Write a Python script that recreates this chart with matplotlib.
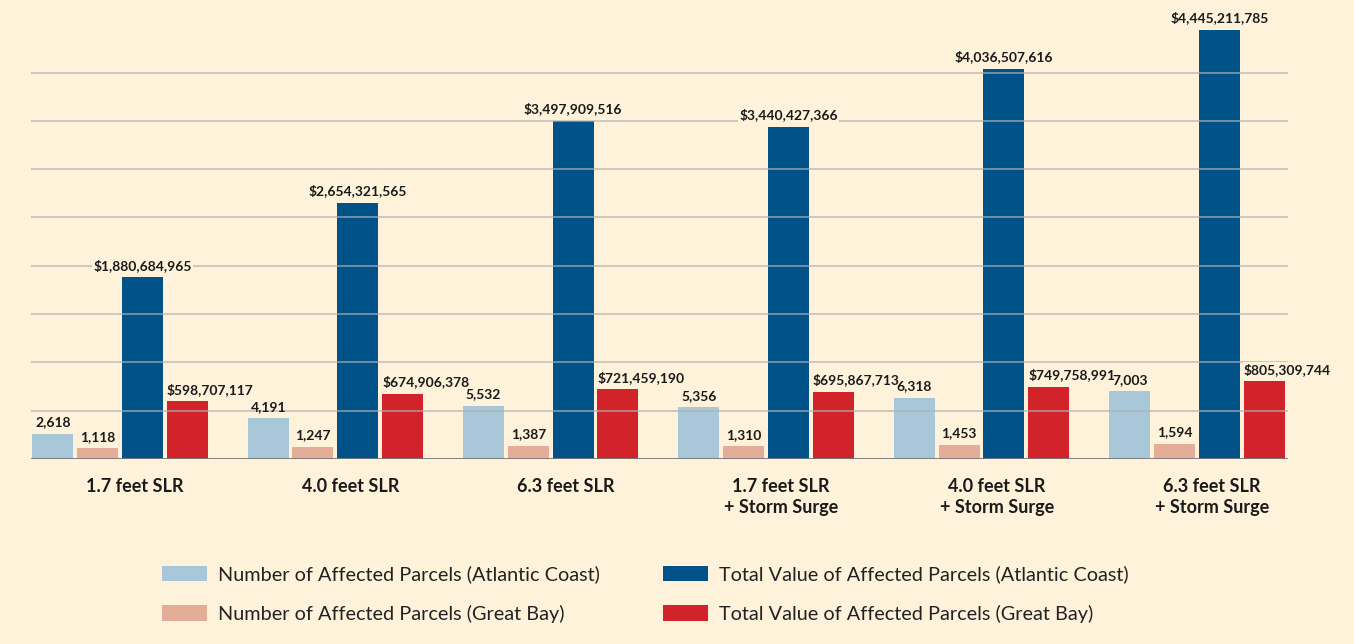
import numpy as np
import matplotlib
matplotlib.use("Agg")
import matplotlib.pyplot as plt
from matplotlib.patches import Patch

# Scenario labels
scenarios = ["1.7 feet SLR", "4.0 feet SLR", "6.3 feet SLR",
             "1.7 feet SLR\n+ Storm Surge", "4.0 feet SLR\n+ Storm Surge",
             "6.3 feet SLR\n+ Storm Surge"]

# Number of affected parcels
atlantic_parcels = [2618, 4191, 5532, 5356, 6318, 7003]
bay_parcels = [1118, 1247, 1387, 1310, 1453, 1594]

# Total value of affected parcels ($)
atlantic_value = [1880684965, 2654321565, 3497909516, 3440427366, 4036507616, 4445211785]
bay_value = [598707117, 674906378, 721459190, 695867713, 749758991, 805309744]

legend_labels = ["Number of Affected Parcels (Atlantic Coast)",
                 "Number of Affected Parcels (Great Bay)",
                 "Total Value of Affected Parcels (Atlantic Coast)",
                 "Total Value of Affected Parcels (Great Bay)"]

# parcel counts share the dollar axis, drawn at 1 parcel = $100,000
parcel_scale = 1e5

bg = "#FEF2DB"
c_lblue = "#A8C8DA"
c_salmon = "#E3AD98"
c_dblue = "#005288"
c_red = "#D2232A"

plt.rcParams["font.family"] = ["Lato", "DejaVu Sans"]

fig = plt.figure(figsize=(13.54, 6.44), dpi=100, facecolor=bg)
ax = fig.add_axes([0.0229, 0.2873, 0.9284, 0.675])
ax.set_facecolor(bg)

x = np.arange(len(scenarios))
step = 0.208
width = 0.19

series = [
    (np.array(atlantic_parcels) * parcel_scale, atlantic_parcels, c_lblue, "{:,}", "center", False),
    (np.array(bay_parcels) * parcel_scale, bay_parcels, c_salmon, "{:,}", "center", False),
    (np.array(atlantic_value), atlantic_value, c_dblue, "${:,}", "center", True),
    (np.array(bay_value), bay_value, c_red, "${:,}", "left", True),
]

for k, (heights, raw, color, fmt, ha, boxed) in enumerate(series):
    xs = x + (k - 1.5) * step
    ax.bar(xs, heights, width=width, color=color, zorder=1)
    for xi, h, v in zip(xs, heights, raw):
        tx = xi if ha == "center" else xi - width / 2
        box = dict(boxstyle="square,pad=0.08", facecolor=bg, edgecolor="none") if boxed else None
        ax.annotate(fmt.format(v), (tx, h), xytext=(0, 4), textcoords="offset points",
                    ha=ha, va="bottom", fontsize=10, fontweight="bold",
                    color="#1a1a1a", zorder=6 if boxed else 7, bbox=box)

# gridlines sit on top of the bars
for gy in np.arange(5e8, 4.01e9, 5e8):
    ax.axhline(gy, color="#B0B0B0", lw=1.2, alpha=0.75, zorder=3)
ax.axhline(0, color="#777777", lw=2, zorder=4)

ax.set_ylim(0, 4.5e9)
ax.set_xlim(-0.413, 5.423)
ax.set_yticks([])
ax.set_xticks(x + 0.07)
ax.set_xticklabels(scenarios, fontsize=13, fontweight="bold", color="#1a1a1a",
                   linespacing=1.25)
ax.tick_params(axis="x", length=0, pad=14)
for s in ax.spines.values():
    s.set_visible(False)

colors = [c_lblue, c_salmon, c_dblue, c_red]
handles = [Patch(facecolor=c, edgecolor="none") for c in colors]

leg_kw = dict(frameon=False, fontsize=14.3, handlelength=2.26, handleheight=0.8,
              handletextpad=0.55, labelspacing=1.08, loc="upper left",
              labelcolor="#222222", borderaxespad=0, borderpad=0)
leg1 = fig.legend(handles[:2], legend_labels[:2],
                  bbox_to_anchor=(0.120, 0.122), **leg_kw)
leg2 = fig.legend(handles[2:], legend_labels[2:],
                  bbox_to_anchor=(0.490, 0.122), **leg_kw)

fig.savefig("out.png", dpi=100, facecolor=bg)
